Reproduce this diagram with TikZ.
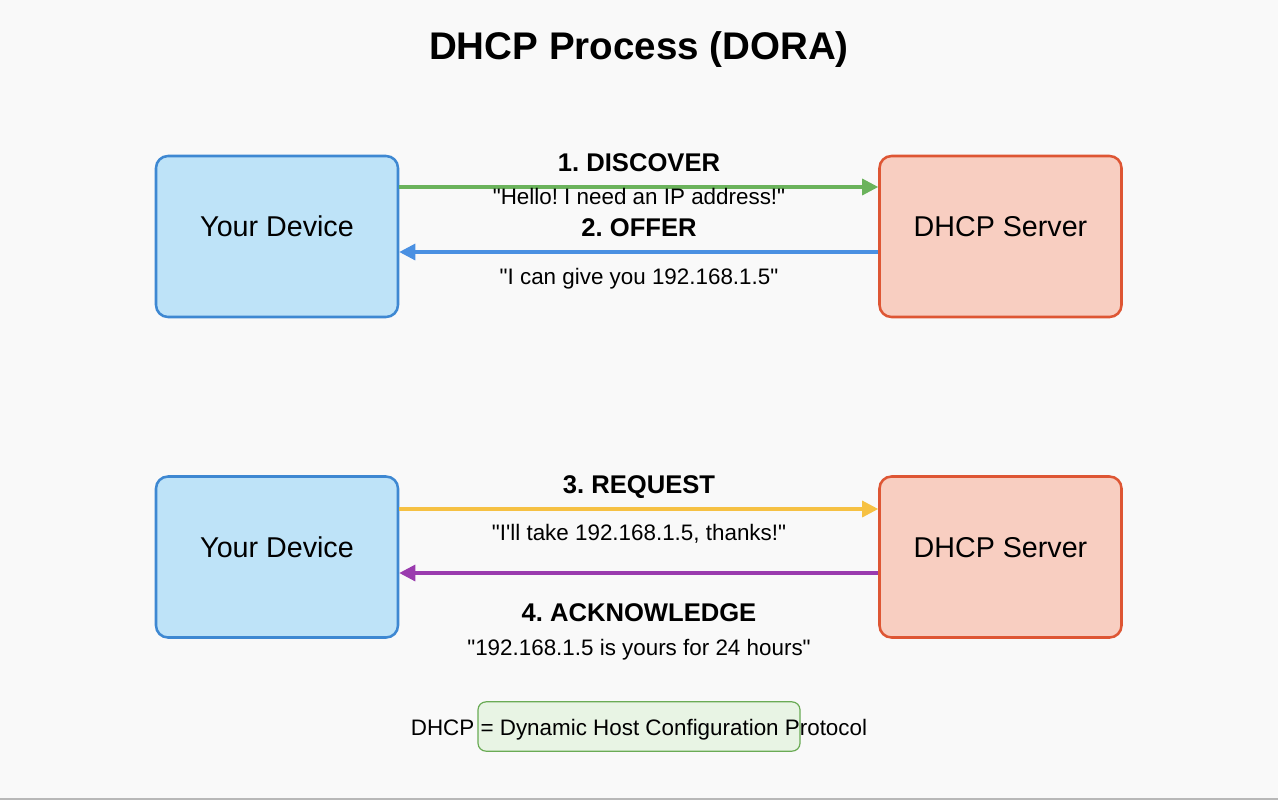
\documentclass[tikz,border=0pt]{standalone}
\usepackage{fontspec}
\setmainfont{Liberation Sans}[Ligatures=TeXOff]
\usetikzlibrary{arrows.meta}
\definecolor{bgc}{HTML}{F9F9F9}
\definecolor{devfill}{HTML}{BEE3F8}
\definecolor{devdraw}{HTML}{3E88D2}
\definecolor{srvfill}{HTML}{F8CEC1}
\definecolor{srvdraw}{HTML}{DE5634}
\definecolor{cgreen}{HTML}{6BB35C}
\definecolor{cblue}{HTML}{4A90E2}
\definecolor{cyellow}{HTML}{F6C143}
\definecolor{cpurple}{HTML}{9A3BAE}
\definecolor{legfill}{HTML}{E8F4E4}
\definecolor{legdraw}{HTML}{6AAB55}
\tikzset{
  box/.style={rounded corners=9pt, line width=1.9pt, minimum width=181.5pt, minimum height=120.75pt, inner sep=0pt},
  devbox/.style={box, fill=devfill, draw=devdraw},
  srvbox/.style={box, fill=srvfill, draw=srvdraw},
  boxtext/.style={font=\fontsize{21.5}{25}\selectfont, inner sep=0pt, anchor=base},
  arr/.style={line width=2.3pt, -{Triangle[length=12pt,width=12pt]}},
  steplabel/.style={font=\bfseries\fontsize{19.2}{23}\selectfont, inner sep=0pt, anchor=base},
  msg/.style={font=\fontsize{16.8}{20}\selectfont, inner sep=0pt, anchor=base},
}
\begin{document}
\frenchspacing
\begin{tikzpicture}[x=0.75pt,y=-0.75pt]
\fill[bgc] (0,0) rectangle (1278,800);
\useasboundingbox (0,0) rectangle (1278,800);
\draw[line width=1.2pt, color=black!28] (0,799.2) -- (1278,799.2);

\node[font=\bfseries\fontsize{28.9}{34}\selectfont, inner sep=0pt, anchor=base] (title) at (639,59.3) {DHCP Process (DORA)};

\node[devbox] (dev1) at (277,236.5) {};
\node[srvbox] (srv1) at (1000.5,236.5) {};
\node[devbox] (dev2) at (277,557) {};
\node[srvbox] (srv2) at (1000.5,557) {};
\node[boxtext] (dev1t) at (dev1.center |- 0,236.7) {Your Device};
\node[boxtext] (srv1t) at (srv1.center |- 0,236.7) {DHCP Server};
\node[boxtext] (dev2t) at (dev2.center |- 0,557.8) {Your Device};
\node[boxtext] (srv2t) at (srv2.center |- 0,557.8) {DHCP Server};

\draw[arr, cgreen] (dev1.east |- 0,187) -- (srv1.west |- 0,187);
\draw[arr, cblue] (srv1.west |- 0,252) -- (dev1.east |- 0,252);
\draw[arr, cyellow] (dev2.east |- 0,509) -- (srv2.west |- 0,509);
\draw[arr, cpurple] (srv2.west |- 0,573) -- (dev2.east |- 0,573);

\node[steplabel] (l1) at (639,171.7) {1. DISCOVER};
\node[msg] (m1) at (639,204.3) {"Hello! I need an IP address!"};
\node[steplabel] (l2) at (639,236.7) {2. OFFER};
\node[msg] (m2) at (639,284) {"I can give you 192.168.1.5"};
\node[steplabel] (l3) at (639,493.3) {3. REQUEST};
\node[msg] (m3) at (639,540) {"I'll take 192.168.1.5, thanks!"};
\node[steplabel] (l4) at (639,621.7) {4. ACKNOWLEDGE};
\node[msg] (m4) at (639,655) {"192.168.1.5 is yours for 24 hours"};

\node[rounded corners=6pt, fill=legfill, draw=legdraw, line width=0.9pt, minimum width=241.5pt, minimum height=37pt, inner sep=0pt] (legbox) at (639,726.5) {};
\node[msg] (legend) at (639,735) {DHCP = Dynamic Host Configuration Protocol};
\end{tikzpicture}
\end{document}
